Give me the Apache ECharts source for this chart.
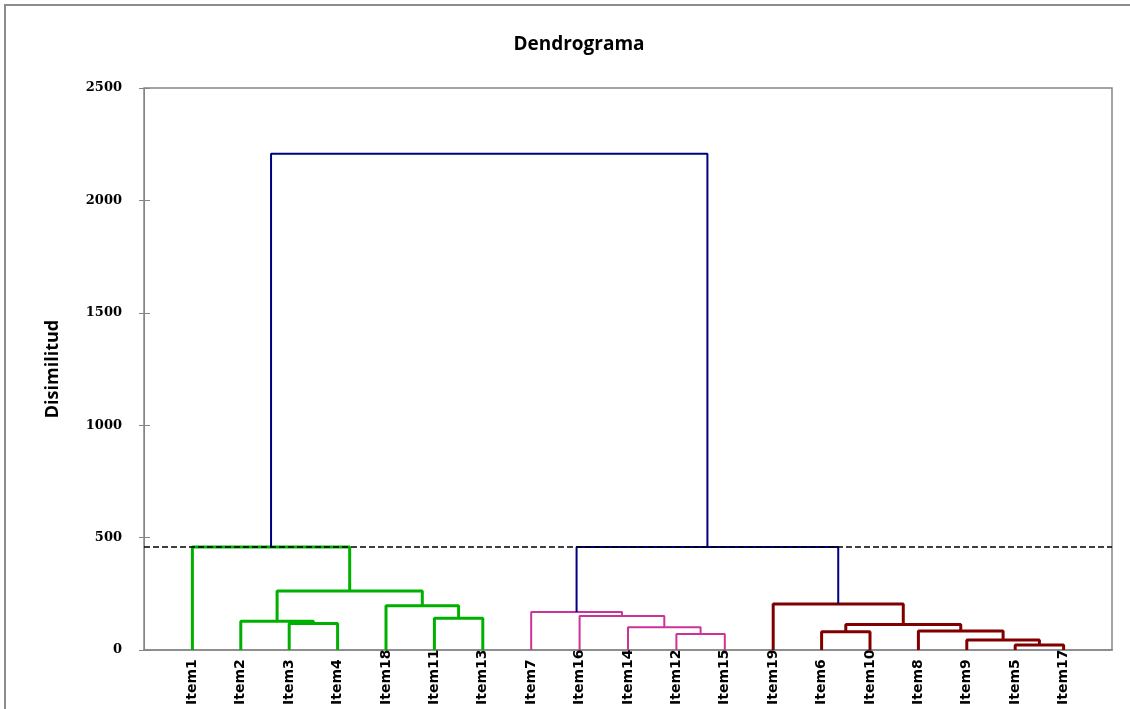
<!DOCTYPE html>
<html>
<head>
<meta charset="utf-8">
<script src="https://cdn.jsdelivr.net/npm/echarts@6/dist/echarts.min.js"></script>
<style>html,body{margin:0;padding:0;background:#fff;}#c{width:1130px;height:709px;}</style>
</head>
<body>
<div id="c"></div>
<script>
// Leaves in display order
const leaves = ['Item1','Item2','Item3','Item4','Item18','Item11','Item13','Item7','Item16','Item14','Item12','Item15','Item19','Item6','Item10','Item8','Item9','Item5','Item17'];
// Merges: node ids 0..18 are leaves, merge k creates node 19+k
const mergeA      = [17, 16, 10, 13, 15,  9, 22,  2,  1,  5,  8,  7,  4, 12, 27,  0, 30, 34];
const mergeB      = [18, 19, 11, 14, 20, 21, 23,  3, 26,  6, 24, 29, 28, 25, 31, 33, 32, 35];
const mergeHeight = [22, 44, 71, 81, 85, 101, 113, 118, 128, 141, 151, 169, 197, 205, 262, 458, 458, 2207];
const mergeGroup  = ['red','red','pink','red','red','pink','red','green','green','green','pink','pink','green','red','green','green','blue','blue'];
const cutLevel = 458;
const yTicks = [0, 500, 1000, 1500, 2000, 2500];

const groupColor = {green:'#00B000', pink:'#CC3399', red:'#800000', blue:'#000080'};
const groupWidth = {green:3, pink:2, red:3, blue:2};

// compute node x positions and heights
const nodeX = leaves.map((_, i) => i + 1);
const nodeH = leaves.map(() => 0);
mergeA.forEach((a, k) => {
  const b = mergeB[k];
  nodeX.push((nodeX[a] + nodeX[b]) / 2);
  nodeH.push(mergeHeight[k]);
});

const series = mergeA.map((a, k) => {
  const b = mergeB[k], h = mergeHeight[k];
  const g = mergeGroup[k];
  return {
    type: 'line', symbol: 'none', silent: true, animation: false, z: 2,
    lineStyle: {color: groupColor[g], width: groupWidth[g]},
    data: [[nodeX[a], nodeH[a]], [nodeX[a], h], [nodeX[b], h], [nodeX[b], nodeH[b]]]
  };
});
series.push({
  type: 'line', symbol: 'none', silent: true, animation: false, z: 5,
  lineStyle: {color: '#000', width: 1.5, type: [6, 3]},
  data: [[0, cutLevel], [20, cutLevel]]
});

const chart = echarts.init(document.getElementById('c'), null, {renderer: 'canvas'});
chart.setOption({
  animation: false,
  backgroundColor: '#fff',
  title: {
    text: 'Dendrograma', left: 574, top: 30, textAlign: 'center',
    textStyle: {fontFamily: 'Open Sans', fontWeight: 700, fontSize: 19, color: '#000'}
  },
  graphic: [{
    type: 'rect', shape: {x: 5, y: 5, width: 1300, height: 900}, silent: true,
    style: {fill: 'none', stroke: '#8c8c8c', lineWidth: 2}
  }],
  grid: {left: 144, top: 88, right: 18, bottom: 59, show: true, borderColor: '#868686', borderWidth: 1.5, backgroundColor: 'transparent'},
  xAxis: {
    type: 'value', min: 0, max: 20, interval: 1,
    axisLine: {show: true, lineStyle: {color: '#868686', width: 1.5}},
    axisTick: {show: false}, splitLine: {show: false},
    axisLabel: {
      rotate: 90, align: 'left', margin: 55, verticalAlign: 'middle',
      fontFamily: 'DejaVu Sans', fontWeight: 'bold', fontSize: 14, color: '#000',
      formatter: v => leaves[v - 1] || ''
    }
  },
  yAxis: [{
    type: 'value', min: 0, max: 2500, interval: 500,
    name: 'Disimilitud', nameLocation: 'middle', nameGap: 82, nameRotate: 90,
    nameTextStyle: {fontFamily: 'Open Sans', fontWeight: 700, fontSize: 18, color: '#000'},
    axisLine: {show: true, lineStyle: {color: '#868686', width: 1}},
    axisTick: {show: true, length: 5, lineStyle: {color: '#868686'}},
    splitLine: {show: false},
    axisLabel: {margin: 22, fontFamily: 'DejaVu Serif', fontWeight: 'bold', fontSize: 13, color: '#000', formatter: v => yTicks.includes(v) ? String(v) : ''}
  }, {
    type: 'value', min: 0, max: 2500, interval: 500, position: 'left',
    axisLine: {show: false}, axisLabel: {show: false}, splitLine: {show: false},
    axisTick: {show: true, inside: true, length: 6, lineStyle: {color: '#868686'}}
  }],
  series: series
});
</script>
</body>
</html>
